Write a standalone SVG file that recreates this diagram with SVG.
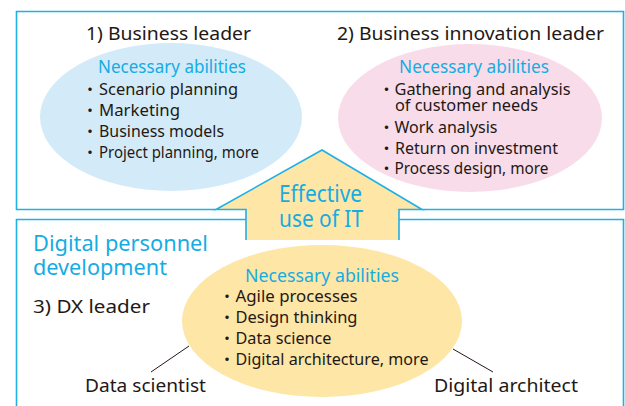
<svg xmlns="http://www.w3.org/2000/svg" width="625" height="406" viewBox="0 0 625 406">
<style>
.frame{fill:none;stroke:#1fb0e6;stroke-width:1.6}
.t{font-family:"Noto Sans","Noto Sans CJK JP",sans-serif;fill:#231815}
.h{font-size:18.5px}
.b{fill:#15ace4}
.na{font-size:17.5px}
.it{font-size:16px}
.conn{stroke:#231815;stroke-width:1;fill:none}
</style>
<rect width="625" height="406" fill="#fff"/>
<g id="frames">
<path class="frame" d="M216,209.5 H16.5 V11.5 H623.5 V209.5 H422"/>
<path class="frame" d="M246,219.5 H16.5 V406 M623.5,406 V219.5 H399"/>
</g>
<g id="arrow">
<polygon points="322,150 422,209.5 399,209.5 399,240 246,240 246,209.5 216,209.5" fill="#fde6a6"/>
<polyline class="frame" points="246,240 246,209.5 216,209.5 322,150 422,209.5 399,209.5 399,240"/>
<text class="t b" x="279" y="202" font-size="23" textLength="83" lengthAdjust="spacingAndGlyphs">Effective</text>
<text class="t b" x="279" y="227" font-size="23" textLength="84" lengthAdjust="spacingAndGlyphs">use of IT</text>
</g>
<g id="business-leader">
<ellipse cx="171" cy="117" rx="131" ry="74" fill="#d3ebf8"/>
<text class="t h" x="86" y="39.5" textLength="165" lengthAdjust="spacingAndGlyphs">1) Business leader</text>
<text class="t b na" x="98" y="73" textLength="148" lengthAdjust="spacingAndGlyphs">Necessary abilities</text>
<text class="t it" y="95"><tspan x="82">・</tspan><tspan x="99" textLength="139" lengthAdjust="spacingAndGlyphs">Scenario planning</tspan></text>
<text class="t it" y="116"><tspan x="82">・</tspan><tspan x="99" textLength="81" lengthAdjust="spacingAndGlyphs">Marketing</tspan></text>
<text class="t it" y="137"><tspan x="82">・</tspan><tspan x="99" textLength="125" lengthAdjust="spacingAndGlyphs">Business models</tspan></text>
<text class="t it" y="158"><tspan x="82">・</tspan><tspan x="99" textLength="160" lengthAdjust="spacingAndGlyphs">Project planning, more</tspan></text>
</g>
<g id="business-innovation-leader">
<ellipse cx="470" cy="118" rx="132" ry="74" fill="#f9dce9"/>
<text class="t h" x="337" y="39.5" textLength="267" lengthAdjust="spacingAndGlyphs">2) Business innovation leader</text>
<text class="t b na" x="399" y="73" textLength="150" lengthAdjust="spacingAndGlyphs">Necessary abilities</text>
<text class="t it" y="95"><tspan x="378.5">・</tspan><tspan x="394.5" textLength="176" lengthAdjust="spacingAndGlyphs">Gathering and analysis</tspan></text>
<text class="t it" x="395" y="110.5" textLength="143" lengthAdjust="spacingAndGlyphs">of customer needs</text>
<text class="t it" y="132.5"><tspan x="378.5">・</tspan><tspan x="394.5" textLength="103" lengthAdjust="spacingAndGlyphs">Work analysis</tspan></text>
<text class="t it" y="153.5"><tspan x="378.5">・</tspan><tspan x="395" textLength="163" lengthAdjust="spacingAndGlyphs">Return on investment</tspan></text>
<text class="t it" y="174"><tspan x="378.5">・</tspan><tspan x="394.5" textLength="154" lengthAdjust="spacingAndGlyphs">Process design, more</tspan></text>
</g>
<g id="dx-leader">
<ellipse cx="322" cy="321" rx="140" ry="76" fill="#fde6a6"/>
<text class="t b" x="33" y="251" font-size="22" textLength="175" lengthAdjust="spacingAndGlyphs">Digital personnel</text>
<text class="t b" x="33" y="275" font-size="22" textLength="134" lengthAdjust="spacingAndGlyphs">development</text>
<text class="t h" x="33" y="313" textLength="117" lengthAdjust="spacingAndGlyphs">3) DX leader</text>
<text class="t b na" x="245" y="282" textLength="154" lengthAdjust="spacingAndGlyphs">Necessary abilities</text>
<text class="t it" y="302"><tspan x="219">・</tspan><tspan x="235.5" textLength="122" lengthAdjust="spacingAndGlyphs">Agile processes</tspan></text>
<text class="t it" y="323"><tspan x="219">・</tspan><tspan x="235.5" textLength="122" lengthAdjust="spacingAndGlyphs">Design thinking</tspan></text>
<text class="t it" y="344"><tspan x="219">・</tspan><tspan x="235.5" textLength="96" lengthAdjust="spacingAndGlyphs">Data science</tspan></text>
<text class="t it" y="364.5"><tspan x="219">・</tspan><tspan x="235.5" textLength="193" lengthAdjust="spacingAndGlyphs">Digital architecture, more</tspan></text>
</g>
<g id="connectors">
<line class="conn" x1="151" y1="372" x2="189" y2="346"/>
<line class="conn" x1="453" y1="349" x2="493" y2="372"/>
</g>
<g id="data-scientist">
<text class="t" x="85" y="391.5" font-size="18" textLength="121" lengthAdjust="spacingAndGlyphs">Data scientist</text>
</g>
<g id="digital-architect">
<text class="t" x="434" y="391.5" font-size="18" textLength="144" lengthAdjust="spacingAndGlyphs">Digital architect</text>
</g>
</svg>
